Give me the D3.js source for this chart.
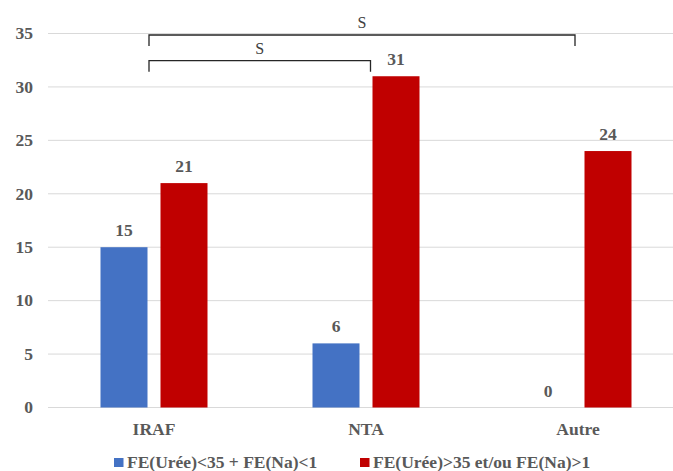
<!DOCTYPE html>
<html><head><meta charset="utf-8">
<script src="https://cdn.jsdelivr.net/npm/d3@7"></script>
<style>body{margin:0;background:#fff}svg{display:block}</style>
</head><body><svg id="c" width="673" height="471"></svg>
<script>
const categories = ["IRAF", "NTA", "Autre"];
const seriesNames = ["FE(Urée)<35 + FE(Na)<1", "FE(Urée)>35 et/ou FE(Na)>1"];
const seriesA = [15, 6, 0];
const seriesB = [21, 31, 24];
const colors = ["#4472C4", "#C00000"];
const yTicks = [0, 5, 10, 15, 20, 25, 30, 35];
const brackets = [
  {from: "IRAF", to: "Autre", level: 35, label: "S"},
  {from: "IRAF", to: "NTA", level: 32.6, label: "S"}
];

const FONT = "'Liberation Serif', Tinos, 'Times New Roman', Times, serif";
const svg = d3.select("#c").attr("font-family", FONT).attr("font-weight", "bold");
const x = d3.scaleBand().domain(categories).range([48, 684]);
const y = d3.scaleLinear().domain([0, 35]).range([407.5, 33.5]);
const barW = 47, gap = 13;
const txt = "#595959";
const fs = 17.5;

svg.append("g").selectAll("line").data(yTicks).join("line")
  .attr("x1", 48).attr("x2", 673).attr("y1", d => y(d)).attr("y2", d => y(d))
  .attr("stroke", "#d9d9d9").attr("stroke-width", 1);
svg.append("g").selectAll("text").data(yTicks).join("text")
  .attr("x", 33).attr("y", d => y(d)).attr("dy", "0.33em").attr("text-anchor", "end")
  .attr("font-size", fs).attr("fill", txt).text(d => d);

const series = [seriesA, seriesB];
series.forEach((vals, si) => {
  const off = si === 0 ? -(gap/2 + barW) : gap/2;
  const g = svg.append("g");
  g.selectAll("rect").data(vals).join("rect")
    .attr("x", (d, i) => x(categories[i]) + x.bandwidth()/2 + off)
    .attr("width", barW)
    .attr("y", d => y(d)).attr("height", d => y(0) - y(d))
    .attr("fill", colors[si]);
  g.selectAll("text").data(vals).join("text")
    .attr("x", (d, i) => x(categories[i]) + x.bandwidth()/2 + off + barW/2)
    .attr("y", d => y(d) - 11).attr("text-anchor", "middle").attr("font-size", fs)
    .attr("fill", txt).text(d => d);
});

svg.append("g").selectAll("text").data(categories).join("text")
  .attr("x", d => x(d) + x.bandwidth()/2).attr("y", 435).attr("text-anchor", "middle")
  .attr("font-size", fs).attr("fill", txt).text(d => d);

brackets.forEach((b, k) => {
  const x1 = x(b.from) + x.bandwidth()/2 - 5;
  const x2 = k === 0 ? x(b.to) + x.bandwidth()/2 - 3 : x(b.to) + x.bandwidth()/2 + 4.5;
  const yy = y(b.level) + 1.5;
  svg.append("path")
    .attr("d", `M${x1},${yy+11}V${yy}H${x2}V${yy+11}`)
    .attr("fill", "none").attr("stroke", "#262626").attr("stroke-width", 1.3);
  svg.append("text").attr("x", (x1 + x2)/2).attr("y", yy - 7)
    .attr("text-anchor", "middle").attr("font-size", 16).attr("font-weight", "normal")
    .attr("fill", "#404040").text(b.label);
});

const legX = [114, 360];
seriesNames.forEach((n, i) => {
  svg.append("rect").attr("x", legX[i]).attr("y", 458).attr("width", 9.5).attr("height", 9).attr("fill", colors[i]);
  svg.append("text").attr("x", legX[i] + 13).attr("y", 468).attr("font-size", fs).attr("fill", txt).text(n);
});
</script></body></html>
